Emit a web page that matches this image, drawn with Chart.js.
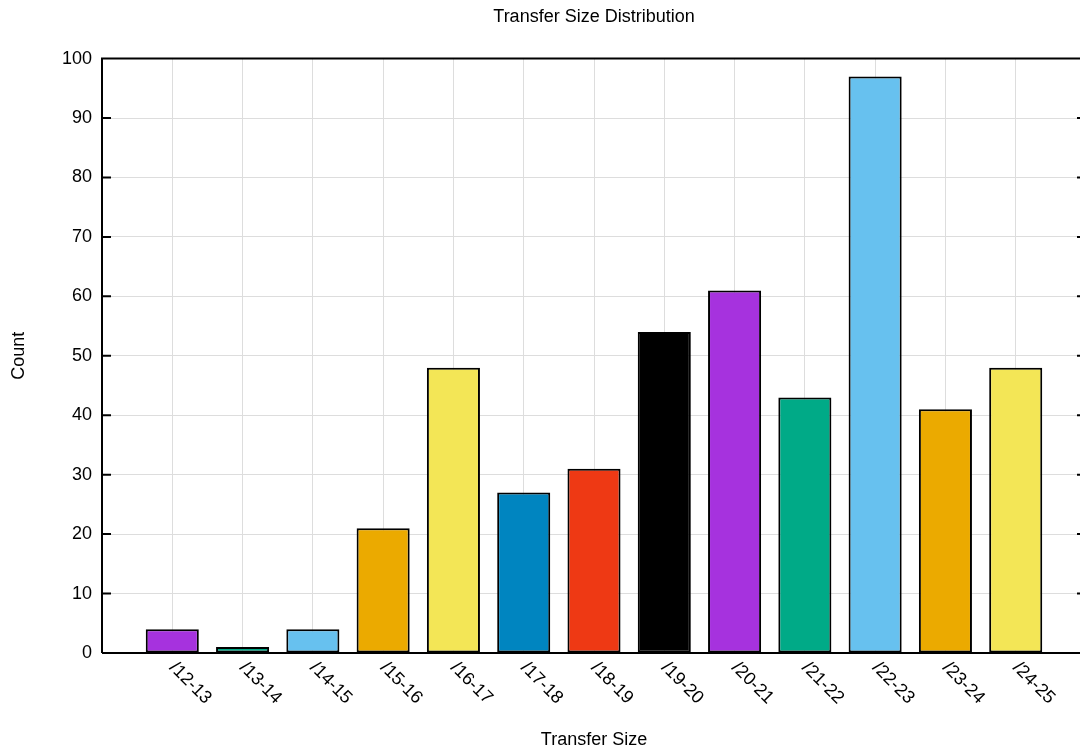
<!DOCTYPE html>
<html>
<head>
<meta charset="utf-8">
<title>Transfer Size Distribution</title>
<script src="https://cdn.jsdelivr.net/npm/chart.js@4.4.1/dist/chart.umd.min.js"></script>
<style>
  html, body { margin: 0; padding: 0; background: #fff; overflow: hidden; }
  #wrap { width: 1080px; height: 749px; overflow: hidden; }
</style>
</head>
<body>
<div id="wrap"><canvas id="myChart" width="1090" height="749"></canvas></div>
<script>
// data
const categories = ['/12-13', '/13-14', '/14-15', '/15-16', '/16-17', '/17-18', '/18-19',
  '/19-20', '/20-21', '/21-22', '/22-23', '/23-24', '/24-25'];
const counts = [4, 1, 4, 21, 48, 27, 31, 54, 61, 43, 97, 41, 48];
const barColors = ['#a632de', '#00aa87', '#67c1ef', '#ebaa00', '#f3e656', '#0085c0', '#ee3914',
  '#000000', '#a632de', '#00aa87', '#67c1ef', '#ebaa00', '#f3e656'];
const yTicks = [0, 10, 20, 30, 40, 50, 60, 70, 80, 90, 100];

// one empty slot each side, like the gnuplot x range
const labels = [''].concat(categories, ['']);
const values = [null].concat(counts, [null]);
const colors = ['#fff'].concat(barColors, ['#fff']);

const FONT = '"Liberation Sans", Arial, Helvetica, sans-serif';
Chart.defaults.font.family = FONT;
Chart.defaults.font.size = 18;
Chart.defaults.color = '#000';

// frame, inward y tics and rotated x labels
const framePlugin = {
  id: 'frame',
  afterDraw(chart) {
    const ctx = chart.ctx;
    const a = chart.chartArea;
    const x = chart.scales.x;
    const y = chart.scales.y;
    ctx.save();
    ctx.strokeStyle = '#000';
    ctx.lineWidth = 2;
    ctx.beginPath();
    ctx.moveTo(a.left, a.bottom);
    ctx.lineTo(a.left, a.top);
    ctx.lineTo(a.right, a.top);
    ctx.lineTo(a.right, a.bottom);
    ctx.lineTo(a.left, a.bottom);
    yTicks.forEach(v => {
      const py = y.getPixelForValue(v);
      ctx.moveTo(a.left, py);
      ctx.lineTo(a.left + 9, py);
      ctx.moveTo(a.right - 9, py);
      ctx.lineTo(a.right, py);
    });
    ctx.stroke();

    ctx.fillStyle = '#000';
    ctx.font = '18px ' + FONT;
    ctx.textAlign = 'left';
    ctx.textBaseline = 'middle';
    categories.forEach((c, i) => {
      const px = x.getPixelForValue(i + 1);
      ctx.save();
      ctx.translate(px, a.bottom + 12);
      ctx.rotate(Math.PI / 4);
      ctx.fillText(c, 0, 0);
      ctx.restore();
    });
    ctx.restore();
  }
};

const myChart = document.getElementById('myChart');

let barChart = new Chart(myChart, {
  type: 'bar',
  data: {
    labels: labels,
    datasets: [{
      label: 'Count',
      data: values,
      backgroundColor: colors,
      borderColor: '#000',
      borderWidth: 2,
      borderSkipped: false,
      categoryPercentage: 1,
      barPercentage: 0.755
    }]
  },
  options: {
    responsive: false,
    animation: false,
    layout: { padding: { left: 0, right: 4, top: 0, bottom: 0 } },
    plugins: {
      legend: { display: false },
      tooltip: { enabled: false },
      title: {
        display: true,
        text: 'Transfer Size Distribution',
        fullSize: false,
        font: { size: 18, weight: 'normal' },
        padding: { top: 6, bottom: 31 }
      }
    },
    scales: {
      x: {
        type: 'category',
        offset: false,
        grid: { color: '#dddddd', lineWidth: 1, drawTicks: false, offset: false },
        border: { display: false },
        ticks: { display: false },
        title: {
          display: true,
          text: 'Transfer Size',
          font: { size: 18 },
          padding: { top: 0, bottom: -2 }
        },
        afterFit: s => { s.height = 96; }
      },
      y: {
        min: 0,
        max: 100,
        grid: { color: '#dddddd', lineWidth: 1, drawTicks: false },
        border: { display: false },
        ticks: {
          stepSize: 10,
          padding: 10,
          font: { size: 18 }
        },
        afterBuildTicks: s => { s.ticks = yTicks.map(v => ({ value: v })); },
        title: {
          display: true,
          text: 'Count',
          font: { size: 18 },
          padding: { top: 8, bottom: 0 }
        },
        afterFit: s => { s.width = 102; }
      }
    }
  },
  plugins: [framePlugin]
});
</script>
</body>
</html>
